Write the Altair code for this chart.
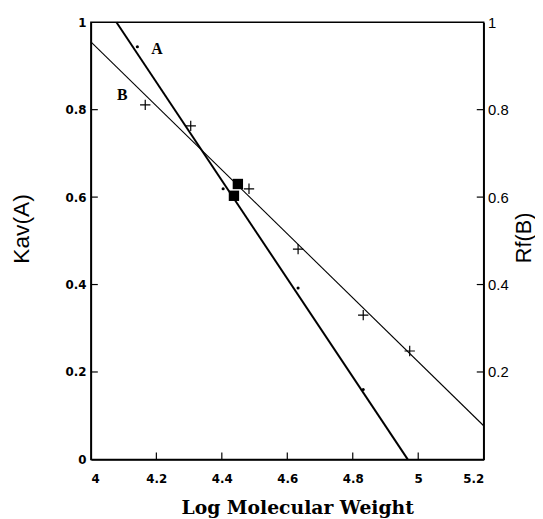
import altair as alt
import pandas as pd

# ---- data ----
x_ticks = [4.0, 4.2, 4.4, 4.6, 4.8, 5.0, 5.2]
y_ticks_left = [0.0, 0.2, 0.4, 0.6, 0.8, 1.0]
y_ticks_right = [0.2, 0.4, 0.6, 0.8, 1.0]

line_a_x = [4.078, 4.968]
line_a_y = [1.0, 0.0]
line_b_x = [4.0, 5.2]
line_b_y = [0.955, 0.077]

a_x = [4.142, 4.404, 4.633, 4.832]
a_y = [0.944, 0.619, 0.392, 0.160]

b_x = [4.166, 4.305, 4.483, 4.633, 4.832, 4.974]
b_y = [0.811, 0.763, 0.619, 0.481, 0.330, 0.248]

sq_x = [4.449, 4.437]
sq_y = [0.630, 0.603]

lab_text = ["A", "B"]
lab_x = [4.202, 4.096]
lab_y = [0.939, 0.833]

W, H = 398, 443
LABEL_FONT = "DejaVu Sans"

xscale = alt.Scale(domain=[4, 5.2], nice=False, zero=False)
yscale = alt.Scale(domain=[0, 1], nice=False, zero=False)

x_axis = alt.Axis(values=x_ticks, format=".1~f", title="Log Molecular Weight",
                  labelFont=LABEL_FONT, labelFontWeight="bold", labelFontSize=12,
                  labelPadding=14, labelColor="black",
                  titleFont="DejaVu Serif", titleFontWeight="bold", titleFontSize=19,
                  titleX=209, titleY=55, titleBaseline="alphabetic", titleAlign="center",
                  titleColor="black")
y_axis = alt.Axis(values=y_ticks_left, format=".1~f", title="Kav(A)",
                  labelFont=LABEL_FONT, labelFontWeight="bold", labelFontSize=12,
                  labelPadding=5, labelColor="black",
                  titleFont="Liberation Sans", titleFontWeight="normal", titleFontSize=23,
                  titleX=-70, titleY=209, titleAngle=270, titleAlign="center",
                  titleBaseline="middle", titleColor="black")
y_axis_r = alt.Axis(values=y_ticks_right, format=".1~f", title="Rf(B)", orient="right",
                    labelFont="Liberation Sans", labelFontWeight="normal", labelFontSize=15,
                    labelPadding=4, labelColor="black",
                    titleFont="Liberation Sans", titleFontWeight="normal", titleFontSize=22,
                    titleX=40, titleY=218, titleAngle=270, titleAlign="center",
                    titleBaseline="middle", titleColor="black")


def X(f):
    return alt.X(f, type="quantitative", scale=xscale, axis=x_axis)


def Y(f):
    return alt.Y(f, type="quantitative", scale=yscale, axis=y_axis)


df_la = pd.DataFrame({"x": line_a_x, "y": line_a_y})
df_lb = pd.DataFrame({"x": line_b_x, "y": line_b_y})
df_a = pd.DataFrame({"x": a_x, "y": a_y})
df_b = pd.DataFrame({"x": b_x, "y": b_y})
df_sq = pd.DataFrame({"x": sq_x, "y": sq_y})
df_lab = pd.DataFrame({"x": lab_x, "y": lab_y, "t": lab_text})

line_a = alt.Chart(df_la).mark_line(color="black", strokeWidth=2).encode(x=X("x"), y=Y("y"))
line_b = alt.Chart(df_lb).mark_line(color="black", strokeWidth=1.1).encode(x=X("x"), y=Y("y"))
pts_a = alt.Chart(df_a).mark_circle(color="black", size=10, opacity=1).encode(x=X("x"), y=Y("y"))
pts_b = alt.Chart(df_b).mark_point(shape="M -1 0 L 1 0 M 0 -1 L 0 1", filled=False,
                                   color="black", strokeWidth=1.2, size=110, opacity=1).encode(
    x=X("x"), y=Y("y"))
squares = alt.Chart(df_sq).mark_square(color="black", size=110, opacity=1).encode(x=X("x"), y=Y("y"))
labels = alt.Chart(df_lab).mark_text(font="Liberation Serif", fontWeight="bold", fontSize=16,
                                     color="black").encode(x=X("x"), y=Y("y"), text="t:N")

xt = alt.Chart(pd.DataFrame({"x": x_ticks[1:-1]})).mark_rule(color="black", strokeWidth=1.2).encode(
    x=X("x"), y=alt.value(H), y2=alt.value(H - 7))
yt = alt.Chart(pd.DataFrame({"y": y_ticks_left[1:-1]})).mark_rule(color="black", strokeWidth=1.2).encode(
    y=Y("y"), x=alt.value(0), x2=alt.value(7))

inner = alt.layer(line_a, line_b, pts_a, pts_b, squares, labels, xt, yt)

right = alt.Chart(pd.DataFrame({"y": y_ticks_right[:-1]})).mark_rule(color="black", strokeWidth=1.2).encode(
    y=alt.Y("y", type="quantitative", scale=yscale, axis=y_axis_r),
    x=alt.value(W), x2=alt.value(W - 7))

chart = alt.layer(inner, right).resolve_scale(y="independent").properties(
    width=W, height=H,
    autosize=alt.AutoSizeParams(type="none"),
    padding={"left": 84, "top": 11, "right": 52, "bottom": 60},
).configure_view(stroke="black", strokeWidth=1.5).configure_axis(
    grid=False, ticks=False, domainColor="black", domainWidth=1.5
)

chart.save("out.html", embed_options={"renderer": "svg", "actions": False})
